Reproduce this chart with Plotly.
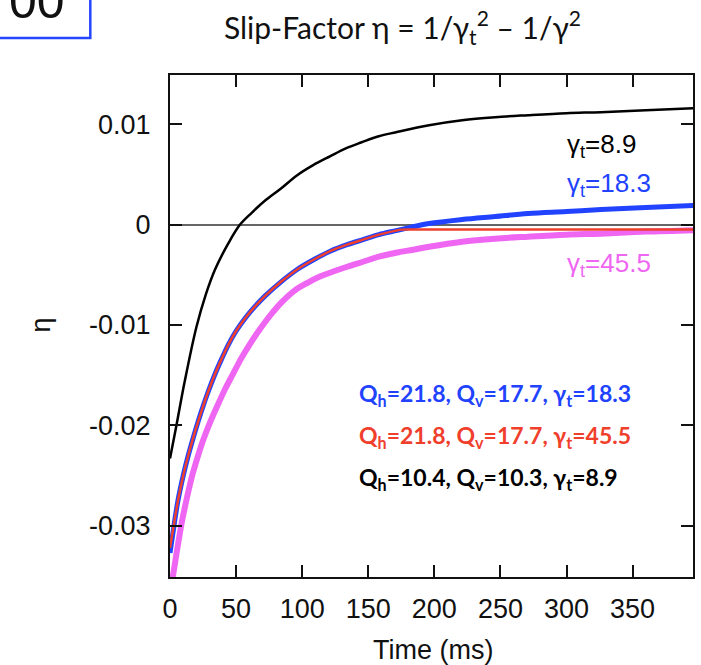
import plotly.graph_objects as go

# ---------------- data ----------------
t_black = [0, 5, 11, 20, 27, 34, 44, 53, 62, 72, 84, 96, 108, 121, 133, 145, 158, 171,
           196, 221, 246, 271, 300, 326, 360, 396]
eta_black = [-0.0233, -0.0199, -0.0157, -0.0102, -0.0070, -0.0045, -0.0019, 0.0000,
             0.0012, 0.0024, 0.0036, 0.0049, 0.0059, 0.0068, 0.0076, 0.0082, 0.0088,
             0.0092, 0.0099, 0.0104, 0.0107, 0.0109, 0.0111, 0.0112, 0.0114, 0.0116]

t_blue = [0, 3, 6, 10, 14, 19, 24, 29, 34, 39, 44, 50, 57, 64, 72, 84, 97, 110, 122,
          134, 146, 158, 171, 181, 196, 221, 246, 271, 300, 326, 360, 396]
eta_blue = [-0.0327, -0.0300, -0.0275, -0.0250, -0.0229, -0.0206, -0.0185, -0.0166,
            -0.0149, -0.0134, -0.0120, -0.0106, -0.0093, -0.0082, -0.0071, -0.0057,
            -0.0044, -0.0034, -0.0026, -0.0020, -0.0015, -0.0010, -0.0006, -0.0003,
            0.0001, 0.0005, 0.0008, 0.0011, 0.0013, 0.0015, 0.0017, 0.0019]

t_red = [0, 3, 6, 10, 14, 19, 24, 29, 34, 39, 44, 50, 57, 64, 72, 84, 97, 110, 122,
         134, 146, 158, 171, 175, 200, 250, 300, 350, 396]
eta_red = [-0.0322, -0.0298, -0.0275, -0.0250, -0.0229, -0.0206, -0.0185, -0.0166,
           -0.0149, -0.0134, -0.0120, -0.0106, -0.0093, -0.0082, -0.0071, -0.0057,
           -0.0044, -0.0034, -0.0026, -0.0020, -0.0015, -0.0010, -0.0006, -0.0005,
           -0.0005, -0.0005, -0.0005, -0.0005, -0.0005]

t_magenta = [2, 5, 9, 13, 17, 21, 25, 30, 36, 42, 48, 54, 60, 66, 72, 78, 84, 94, 104,
             113, 123, 134, 146, 158, 171, 184, 196, 221, 246, 271, 300, 326, 360, 396]
eta_magenta = [-0.0352, -0.0327, -0.0296, -0.0271, -0.0249, -0.0231, -0.0215, -0.0198,
               -0.0180, -0.0163, -0.0148, -0.0133, -0.0120, -0.0108, -0.0097, -0.0087,
               -0.0078, -0.0066, -0.0058, -0.0052, -0.0047, -0.0042, -0.0037, -0.0032,
               -0.0028, -0.0025, -0.0022, -0.0017, -0.0014, -0.0012, -0.0010, -0.0009,
               -0.0007, -0.00055]

x_tickvals = [0, 50, 100, 150, 200, 250, 300, 350]
x_ticktext = ["0", "50", "100", "150", "200", "250", "300", "350"]
y_tickvals = [-0.03, -0.02, -0.01, 0, 0.01]
y_ticktext = ["-0.03", "-0.02", "-0.01", "0", "0.01"]

series_labels = ["γ<sub>t</sub>=8.9", "γ<sub>t</sub>=18.3", "γ<sub>t</sub>=45.5"]
legend_lines = ["Q<sub>h</sub>=21.8, Q<sub>v</sub>=17.7, γ<sub>t</sub>=18.3",
                "Q<sub>h</sub>=21.8, Q<sub>v</sub>=17.7, γ<sub>t</sub>=45.5",
                "Q<sub>h</sub>=10.4, Q<sub>v</sub>=10.3, γ<sub>t</sub>=8.9"]
title_text = "Slip-Factor η = 1/γ<sub>t</sub><sup>2</sup> – 1/γ<sup>2</sup>"

# ---------------- styling ----------------
BLACK = "#000000"
BLUE = "#2143ff"
RED = "#f0402c"
MAGENTA = "#ef66f2"
TICKFONT = dict(family="Liberation Sans, Arial, sans-serif", size=27, color="#111")

fig = go.Figure()
fig.add_trace(go.Scatter(x=t_magenta, y=eta_magenta, mode="lines",
                         line=dict(color=MAGENTA, width=6, shape="spline", smoothing=1),
                         showlegend=False))
fig.add_trace(go.Scatter(x=t_blue, y=eta_blue, mode="lines",
                         line=dict(color=BLUE, width=5, shape="spline", smoothing=1),
                         showlegend=False))
fig.add_trace(go.Scatter(x=t_red, y=eta_red, mode="lines",
                         line=dict(color=RED, width=2.5, shape="spline", smoothing=0.6),
                         showlegend=False))
fig.add_trace(go.Scatter(x=t_black, y=eta_black, mode="lines",
                         line=dict(color=BLACK, width=2.5, shape="spline", smoothing=1),
                         showlegend=False))

W, H = 701, 665
ML, MR, MT, MB = 170, 6, 75, 88
PW, PH = W - ML - MR, H - MT - MB


def px(x):
    return (x - ML) / PW


def py(y):
    return (H - MB - y) / PH


fig.update_layout(
    width=W, height=H,
    margin=dict(l=ML, r=MR, t=MT, b=MB, pad=0),
    paper_bgcolor="white", plot_bgcolor="white",
    showlegend=False,
    xaxis=dict(range=[0, 395.7], tickvals=x_tickvals, ticktext=x_ticktext,
               ticks="inside", ticklen=12, tickwidth=2, tickcolor="#111",
               showline=True, linecolor="#111", linewidth=2, mirror="ticks",
               showgrid=False, zeroline=False, tickfont=TICKFONT,
               ticklabelstandoff=7),
    yaxis=dict(range=[-0.0351, 0.0149], tickvals=y_tickvals, ticktext=y_ticktext,
               ticks="inside", ticklen=12, tickwidth=2, tickcolor="#111",
               showline=True, linecolor="#111", linewidth=2, mirror="ticks",
               showgrid=False, zeroline=True, zerolinecolor="#666",
               zerolinewidth=1.5, tickfont=TICKFONT, ticklabelstandoff=12),
)

ann = []
# title
ann.append(dict(text=title_text, x=px(403), y=py(27), xref="paper", yref="paper",
                xanchor="center", yanchor="middle", showarrow=False,
                font=dict(family="Lato, sans-serif", size=30, color="#111")))
# axis titles
ann.append(dict(text="Time (ms)", x=px(434), y=py(650), xref="paper", yref="paper",
                xanchor="center", yanchor="middle", showarrow=False,
                font=dict(family="Liberation Sans, Arial, sans-serif", size=27,
                          color="#111")))
ann.append(dict(text="η", x=px(41), y=py(325), xref="paper", yref="paper",
                xanchor="center", yanchor="middle", showarrow=False, textangle=-90,
                font=dict(family="Liberation Sans, Arial, sans-serif", size=27,
                          color="#111")))
# curve labels
label_colors = [BLACK, BLUE, MAGENTA]
label_y = [145, 184, 264]
for txt, col, yy in zip(series_labels, label_colors, label_y):
    ann.append(dict(text=txt, x=px(567), y=py(yy), xref="paper", yref="paper",
                    xanchor="left", yanchor="middle", showarrow=False,
                    font=dict(family="Liberation Sans, Arial, sans-serif", size=26,
                              color=col)))
# legend block
legend_colors = [BLUE, RED, BLACK]
legend_y = [394, 436, 478]
for txt, col, yy in zip(legend_lines, legend_colors, legend_y):
    ann.append(dict(text="<b>" + txt + "</b>", x=px(358), y=py(yy), xref="paper",
                    yref="paper", xanchor="left", yanchor="middle", showarrow=False,
                    font=dict(family="Lato, sans-serif", size=23, color=col)))
# partial box at the top-left corner
ann.append(dict(text="00", x=px(36), y=py(31), xref="paper", yref="paper",
                xanchor="center", yanchor="bottom", showarrow=False,
                font=dict(family="Liberation Sans, Arial, sans-serif", size=50,
                          color="#111")))
fig.update_layout(annotations=ann)

fig.add_shape(type="rect", xref="paper", yref="paper",
              x0=px(-10), x1=px(90), y0=py(38), y1=py(-20),
              line=dict(color="#2546ff", width=2.5), fillcolor="rgba(0,0,0,0)")

fig.write_html("out.html",
               config={"displayModeBar": False},
               post_script="document.body.style.margin='0';"
                           "document.body.style.overflow='hidden';")
